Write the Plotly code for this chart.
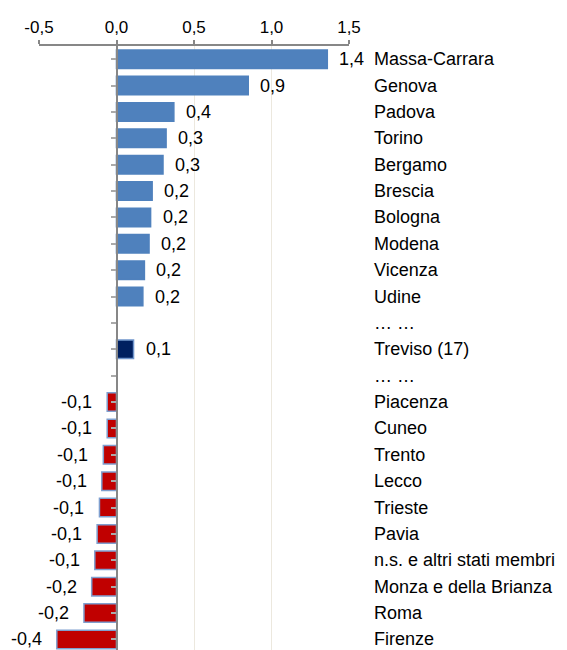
import plotly.graph_objects as go

categories = ["Massa-Carrara", "Genova", "Padova", "Torino", "Bergamo", "Brescia",
              "Bologna", "Modena", "Vicenza", "Udine", "… …", "Treviso (17)", "… … ",
              "Piacenza", "Cuneo", "Trento", "Lecco", "Trieste", "Pavia",
              "n.s. e altri stati membri", "Monza e della Brianza", "Roma", "Firenze"]
values = [1.36, 0.85, 0.37, 0.32, 0.30, 0.23, 0.22, 0.21, 0.18, 0.17, None, 0.11, None,
          -0.06, -0.06, -0.085, -0.095, -0.11, -0.125, -0.14, -0.16, -0.21, -0.385]
value_labels = ["1,4", "0,9", "0,4", "0,3", "0,3", "0,2", "0,2", "0,2", "0,2", "0,2", "", "0,1", "",
                "-0,1", "-0,1", "-0,1", "-0,1", "-0,1", "-0,1", "-0,1", "-0,2", "-0,2", "-0,4"]
x_ticks = [-0.5, 0.0, 0.5, 1.0, 1.5]
x_tick_labels = ["-0,5", "0,0", "0,5", "1,0", "1,5"]

idx = list(range(len(categories)))
colors, lines = [], []
for c, v in zip(categories, values):
    if c.startswith("Treviso"):
        colors.append("#002060"); lines.append("#6F95CC")
    elif v is not None and v < 0:
        colors.append("#C00000"); lines.append("#7F9FCF")
    else:
        colors.append("#4F81BD"); lines.append("#4F81BD")

fig = go.Figure(go.Bar(
    y=idx, x=values, orientation="h", width=0.7,
    marker=dict(color=colors, line=dict(color=lines, width=1.5)),
    hoverinfo="skip",
))

font = "Liberation Sans, Arial, sans-serif"
ann = []
for i, (v, t) in enumerate(zip(values, value_labels)):
    if v is None:
        continue
    ann.append(dict(x=v, y=i, xref="x", yref="y", text=t, showarrow=False,
                    xanchor="left" if v >= 0 else "right",
                    xshift=10 if v >= 0 else -13,
                    font=dict(family=font, size=18, color="#000000")))
for i, c in enumerate(categories):
    ann.append(dict(x=1.0, y=i, xref="paper", yref="y", text=c.strip(), showarrow=False,
                    xanchor="left", xshift=23,
                    font=dict(family=font, size=18, color="#000000")))

fig.update_layout(
    width=559, height=642,
    margin=dict(l=31, r=218, t=38, b=0),
    paper_bgcolor="white", plot_bgcolor="white",
    showlegend=False,
    annotations=ann,
    xaxis=dict(side="top", range=[-0.5, 1.5], tickvals=x_ticks, ticktext=x_tick_labels,
               showgrid=True, gridcolor="#ECE8DE", gridwidth=1,
               showline=True, linecolor="#878787", linewidth=2,
               ticks="outside", ticklen=4, tickcolor="#878787", tickwidth=1.5,
               zeroline=False,
               tickfont=dict(family=font, size=17, color="#000000")),
    yaxis=dict(range=[22.4, -0.5], tickvals=idx, showticklabels=False,
               anchor="free", position=0.25, showgrid=False, zeroline=False,
               showline=True, linecolor="#878787", linewidth=2,
               ticks="outside", tickson="boundaries", ticklen=5,
               tickcolor="#AAAAAA", tickwidth=1.5),
)

fig.write_html("out.html")
